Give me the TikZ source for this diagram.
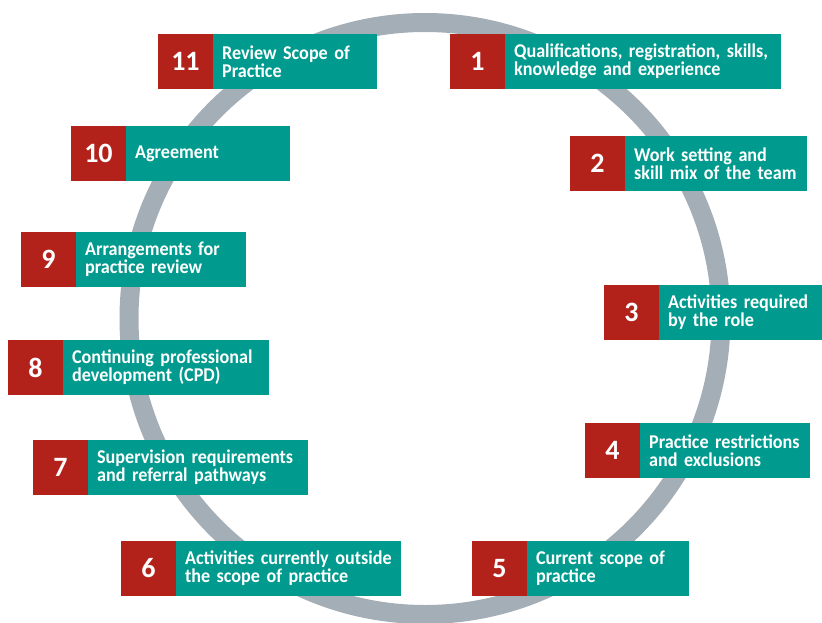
\documentclass[tikz,border=0pt]{standalone}
\usepackage{fontspec}
\setmainfont{Carlito}[FakeStretch=0.93, WordSpace=0.75]
\newfontfamily\numfont{Carlito}
\usepackage{tikz}
\hyphenpenalty=10000

\definecolor{stepred}{RGB}{178,34,26}
\definecolor{stepteal}{RGB}{0,155,142}
\definecolor{ringgrey}{RGB}{164,174,182}

\begin{document}
\begin{tikzpicture}[x=1pt, y=-1pt,
    ring/.style = {draw = ringgrey, line width = 19pt},
    numbox/.style = {fill = stepred, text = white, anchor = north west,
        minimum width = 54.5pt, minimum height = 54.5pt, inner sep = 0pt,
        font = \numfont\bfseries\fontsize{28}{28}\selectfont},
    txtbox/.style = {fill = stepteal, text = white, anchor = west, align = left,
        minimum height = 54.5pt, inner xsep = 9pt, inner ysep = 0pt,
        font = \bfseries\fontsize{19.5}{18.3}\selectfont}]
    \useasboundingbox (0, 0) rectangle (822, 623);
    \draw [ring] (425, 318.5) circle [radius = 296];
    % right half
    \node [numbox] (n1) at (450, 34) {1};
    \node [txtbox, text width = 258pt] (t1) at (n1.east) {Qualifications, registration, skills,\\knowledge and experience};
    \node [numbox] (n2) at (570, 136) {2};
    \node [txtbox, text width = 164pt] (t2) at (n2.east) {Work setting and\\skill mix of the team};
    \node [numbox] (n3) at (604, 285) {3};
    \node [txtbox, text width = 145pt] (t3) at (n3.east) {Activities required\\by the role};
    \node [numbox] (n4) at (585, 423) {4};
    \node [txtbox, text width = 152pt] (t4) at (n4.east) {Practice restrictions\\and exclusions};
    \node [numbox] (n5) at (472, 541) {5};
    \node [txtbox, text width = 144pt] (t5) at (n5.east) {Current scope of\\practice};
    % left half
    \node [numbox] (n6) at (121, 541) {6};
    \node [txtbox, text width = 207pt] (t6) at (n6.east) {Activities currently outside\\the scope of practice};
    \node [numbox] (n7) at (33, 440) {7};
    \node [txtbox, text width = 202pt] (t7) at (n7.east) {Supervision requirements\\and referral pathways};
    \node [numbox] (n8) at (8, 340) {8};
    \node [txtbox, text width = 188pt] (t8) at (n8.east) {Continuing professional\\development (CPD)};
    \node [numbox] (n9) at (21, 232) {9};
    \node [txtbox, text width = 152pt] (t9) at (n9.east) {Arrangements for\\practice review};
    \node [numbox] (n10) at (71, 126) {10};
    \node [txtbox, text width = 146pt] (t10) at (n10.east) {Agreement};
    \node [numbox] (n11) at (158, 34) {11};
    \node [txtbox, text width = 146pt] (t11) at (n11.east) {Review Scope of\\Practice};
\end{tikzpicture}
\end{document}
